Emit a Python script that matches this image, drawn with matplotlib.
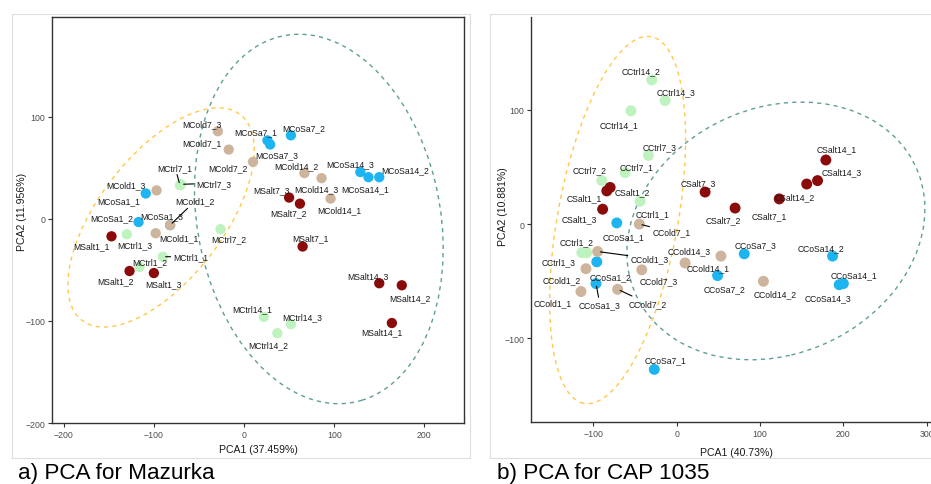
import matplotlib
matplotlib.use("Agg")
import matplotlib.pyplot as plt
from matplotlib.patches import Ellipse, Rectangle

plt.rcParams["font.family"] = ["Liberation Sans", "DejaVu Sans"]

# ---- data: a) Mazurka ----
m_names = ["MCoSa1_1", "MCoSa1_2", "MCoSa1_3", "MCoSa7_1", "MCoSa7_2", "MCoSa7_3",
           "MCoSa14_1", "MCoSa14_2", "MCoSa14_3",
           "MCold1_1", "MCold1_2", "MCold1_3", "MCold7_1", "MCold7_2", "MCold7_3",
           "MCold14_1", "MCold14_2", "MCold14_3",
           "MCtrl1_1", "MCtrl1_2", "MCtrl1_3", "MCtrl7_1", "MCtrl7_2", "MCtrl7_3",
           "MCtrl14_1", "MCtrl14_2", "MCtrl14_3",
           "MSalt1_1", "MSalt1_2", "MSalt1_3", "MSalt7_1", "MSalt7_2", "MSalt7_3",
           "MSalt14_1", "MSalt14_2", "MSalt14_3"]
m_pc1 = [-109, -117, -82, 26, 52, 29, 138, 150, 129,
         -98, -82, -97, -17, 10, -29, 96, 67, 86,
         -90, -116, -130, -71, -26, -70, 22, 37, 52,
         -147, -127, -100, 65, 62, 50, 164, 175, 150]
m_pc2 = [25, -3, -6, 77, 82, 73, 41, 41, 46,
         -14, -6, 28, 68, 56, 86, 20, 45, 40,
         -37, -47, -15, 33, -10, 34, -96, -112, -103,
         -17, -51, -53, -27, 15, 21, -102, -65, -63]

# ---- data: b) CAP 1035 ----
c_names = ["CCoSa1_1", "CCoSa1_2", "CCoSa1_3", "CCoSa7_1", "CCoSa7_2", "CCoSa7_3",
           "CCoSa14_1", "CCoSa14_2", "CCoSa14_3",
           "CCold1_1", "CCold1_2", "CCold1_3", "CCold7_1", "CCold7_2", "CCold7_3",
           "CCold14_1", "CCold14_2", "CCold14_3",
           "CCtrl1_1", "CCtrl1_2", "CCtrl1_3", "CCtrl7_1", "CCtrl7_2", "CCtrl7_3",
           "CCtrl14_1", "CCtrl14_2", "CCtrl14_3",
           "CSalt1_1", "CSalt1_2", "CSalt1_3", "CSalt7_1", "CSalt7_2", "CSalt7_3",
           "CSalt14_1", "CSalt14_2", "CSalt14_3"]
c_pc1 = [-72, -96, -97, -27, 49, 81, 195, 187, 200,
         -115, -109, -95, -45, -71, -42, 53, 104, 10,
         -44, -108, -114, -62, -90, -34, -55, -30, -14,
         -84, -80, -89, 123, 70, 34, 179, 156, 169]
c_pc2 = [1, -33, -52, -127, -45, -26, -53, -28, -52,
         -59, -39, -24, 0, -57, -40, -28, -50, -34,
         20, -25, -25, 45, 38, 60, 99, 126, 108,
         29, 32, 13, 22, 14, 28, 56, 35, 38]

# ellipses: centre x, centre y, width, height, angle
m_ell_x = [-92, 83]
m_ell_y = [1.5, 0]
m_ell_w = [268, 268]
m_ell_h = [131, 368]
m_ell_a = [46.8, 15]
c_ell_x = [-71, 119]
c_ell_y = [3.5, -6]
c_ell_w = [142, 361]
c_ell_h = [331, 220]
c_ell_a = [-15.6, 9.7]

# ---- styling ----
COLORS = {"CoSa": "#1DB4F2", "Cold": "#CDB49C", "Ctrl": "#BEF2BE", "Salt": "#8B0A0A"}
ELL_COLORS = ["#FFC84A", "#5F9E98"]
ORDER = ["CoSa", "Cold", "Ctrl", "Salt"]

# label offsets (pixels) from the point, and which labels get a leader line
m_off = {"MCold7_3": (-16, 8), "MCold7_1": (-27, 7), "MCold7_2": (-25, -6),
         "MCtrl7_1": (-5, 18), "MCtrl7_3": (33, 1), "MCold1_3": (-31, 6),
         "MCoSa1_1": (-27, -7), "MCold1_2": (25, 24), "MCoSa1_2": (-27, 4),
         "MCoSa1_3": (-8, 9), "MCold1_1": (23, -4), "MSalt1_1": (-20, -9),
         "MCtrl1_3": (8, -10), "MCtrl7_2": (8, -10), "MCtrl1_1": (28, 0),
         "MCtrl1_2": (10, 5), "MSalt1_2": (-14, -10), "MSalt1_3": (10, -11),
         "MCoSa7_1": (-12, 9), "MCoSa7_2": (13, 8), "MCoSa7_3": (7, -10),
         "MCold14_2": (-8, 7), "MCold14_3": (-5, -11), "MCold14_1": (9, -11),
         "MSalt7_3": (-18, 8), "MSalt7_2": (-11, -9), "MCoSa14_3": (-10, 8),
         "MCoSa14_1": (-3, -12), "MCoSa14_2": (26, 7), "MSalt7_1": (8, 9),
         "MSalt14_3": (-11, 8), "MSalt14_2": (8, -12), "MSalt14_1": (-10, -9),
         "MCtrl14_1": (-12, 8), "MCtrl14_3": (11, 7), "MCtrl14_2": (-9, -11)}
m_lead = ["MCtrl7_1", "MCtrl7_3", "MCold1_2", "MCtrl1_1"]

c_off = {"CCtrl14_2": (-11, 9), "CCtrl14_3": (11, 9), "CCtrl14_1": (-12, -14),
         "CCtrl7_3": (11, 9), "CCtrl7_1": (11, 6), "CCtrl7_2": (-12, 11),
         "CSalt1_1": (-23, -7), "CSalt1_2": (22, -4), "CSalt7_3": (-7, 9),
         "CSalt1_3": (-23, -9), "CCtrl1_1": (12, -13), "CCoSa1_1": (7, -14),
         "CCold7_1": (32, -8), "CCtrl1_2": (-10, 11), "CCtrl1_3": (-23, -9),
         "CCold1_3": (52, -7), "CCoSa1_2": (14, -15), "CCold1_2": (-24, -11),
         "CCold1_1": (-28, -11), "CCoSa1_3": (4, -21), "CCold7_2": (30, -14),
         "CCold7_3": (17, -11), "CCold14_3": (4, 12), "CCold14_1": (-13, -12),
         "CCoSa7_1": (11, 10), "CSalt14_1": (11, 11), "CSalt14_3": (24, 9),
         "CSalt14_2": (-12, -13), "CSalt7_1": (-10, -17), "CSalt7_2": (-12, -12),
         "CCoSa7_3": (11, 9), "CCoSa7_2": (7, -13), "CCold14_2": (12, -12),
         "CCoSa14_2": (-12, 8), "CCoSa14_1": (15, 10), "CCoSa14_3": (-15, -14)}
c_lead = ["CCold7_1", "CCold1_3", "CCoSa1_3", "CCold7_2"]

W, H = 931, 485
fig = plt.figure(figsize=(W / 100, H / 100), dpi=100)

# light grey panel frames
fig.add_artist(Rectangle((12 / W, 26 / H), 458 / W, 444 / H, transform=fig.transFigure,
                         fill=False, ec="#DDDDDD", lw=0.8))
fig.add_artist(Rectangle((490 / W, 26 / H), 460 / W, 444 / H, transform=fig.transFigure,
                         fill=False, ec="#DDDDDD", lw=0.8))


def group_of(name):
    return name[1:5]


def draw_panel(ax, names, xs, ys, ex, ey, ew, eh, ea, offsets, leads, size):
    for i in range(len(ex)):
        ax.add_patch(Ellipse((ex[i], ey[i]), ew[i], eh[i], angle=ea[i], fill=False,
                             ec=ELL_COLORS[i], lw=1.0, ls=(0, (3, 3)), zorder=1))
    for g in ORDER:
        idx = [i for i, n in enumerate(names) if group_of(n) == g]
        ax.scatter([xs[i] for i in idx], [ys[i] for i in idx], s=size,
                   c=COLORS[g], edgecolors="none", zorder=3)
    for i, n in enumerate(names):
        dx, dy = offsets[n]
        props = None
        if n in leads:
            props = dict(arrowstyle="-", color="black", lw=0.8, shrinkA=0, shrinkB=2)
        ax.annotate(n, (xs[i], ys[i]), xytext=(dx, dy), textcoords="offset pixels",
                    ha="center", va="center", fontsize=6.2, color="#1A1A1A",
                    arrowprops=props, zorder=4)
    ax.tick_params(length=3, width=0.8, color="#333333", labelsize=6.3,
                   labelcolor="#4D4D4D", pad=2)


# a) Mazurka
ax1 = fig.add_axes([52 / W, 61 / H, 412 / W, 406 / H])
draw_panel(ax1, m_names, m_pc1, m_pc2, m_ell_x, m_ell_y, m_ell_w, m_ell_h, m_ell_a,
           m_off, m_lead, 55)
ax1.set_xlim(-213, 244)
ax1.set_ylim(-200, 198)
ax1.set_xticks([-200, -100, 0, 100, 200])
ax1.set_yticks([-200, -100, 0, 100])
for sp in ax1.spines.values():
    sp.set_color("#333333")
    sp.set_linewidth(1.0)

# b) CAP 1035
ax2 = fig.add_axes([531 / W, 62 / H, 409 / W, 405 / H])
draw_panel(ax2, c_names, c_pc1, c_pc2, c_ell_x, c_ell_y, c_ell_w, c_ell_h, c_ell_a,
           c_off, c_lead, 62)
ax2.set_xlim(-175, 316)
ax2.set_ylim(-173, 181)
ax2.set_xticks([-100, 0, 100, 200, 300])
ax2.set_yticks([-100, 0, 100])
ax2.spines["top"].set_visible(False)
ax2.spines["right"].set_visible(False)
for sp in ("left", "bottom"):
    ax2.spines[sp].set_color("#333333")
    ax2.spines[sp].set_linewidth(1.0)

# axis titles
fig.text(258 / W, 1 - 450 / H, "PCA1 (37.459%)", ha="center", va="center", fontsize=7.6, color="#1A1A1A")
fig.text(22 / W, 1 - 212 / H, "PCA2 (11.956%)", ha="center", va="center", rotation=90,
         fontsize=7.6, color="#1A1A1A")
fig.text(736 / W, 1 - 453 / H, "PCA1 (40.73%)", ha="center", va="center", fontsize=7.6, color="#1A1A1A")
fig.text(503 / W, 1 - 207 / H, "PCA2 (10.881%)", ha="center", va="center", rotation=90,
         fontsize=7.6, color="#1A1A1A")

# captions
fig.text(18 / W, 1 - 479 / H, "a) PCA for Mazurka", ha="left", va="baseline", fontsize=16.2)
fig.text(497 / W, 1 - 479 / H, "b) PCA for CAP 1035", ha="left", va="baseline", fontsize=16.2)

fig.savefig("out.png", dpi=100)
